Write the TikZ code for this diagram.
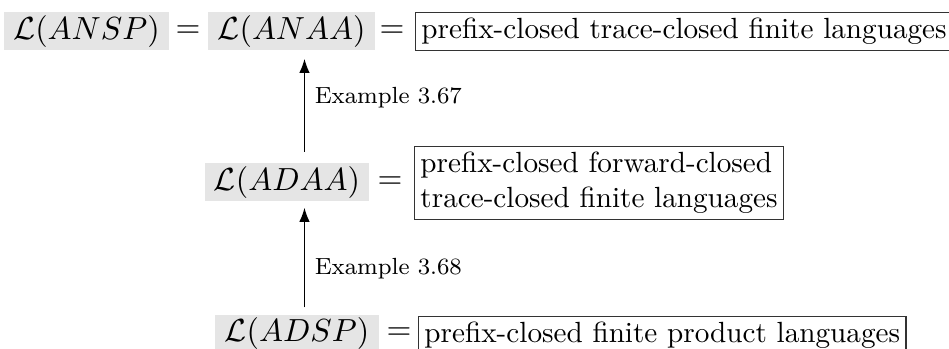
\documentclass[tikz,border=0pt]{standalone}
\usepackage{amsmath}
\usepackage{amssymb}
\usepackage{tikz}
\usetikzlibrary{arrows.meta}

\begin{document}
\begin{tikzpicture}[>=Latex,
  bigmath/.style={font=\fontsize{11.2}{13}\selectfont},
  lang/.style={bigmath, fill=gray!20, inner xsep=3.2pt, inner ysep=0.5pt, minimum height=13pt},
  setbox/.style={draw=black!80, inner sep=2pt, align=left},
  exref/.style={right, font=\footnotesize}]
  \useasboundingbox (0,0) rectangle (11.426,-4.202);
  % top row
  \node[lang] (ansp) at (1.041,-0.379) {$\mathcal{L}(ANSP)$};
  \node[bigmath] (eq1) at (2.264,-0.379) {$=$};
  \node[lang] (anaa) at (3.510,-0.379) {$\mathcal{L}(ANAA)$};
  \node[bigmath] (eq2) at (4.720,-0.379) {$=$};
  \node[setbox, anchor=west] (tcl) at (4.997,-0.379) {prefix-closed trace-closed finite languages};
  % middle row
  \node[lang] (adaa) at (3.455,-2.197) {$\mathcal{L}(ADAA)$};
  \node[bigmath] (eq3) at (4.696,-2.197) {$=$};
  \node[setbox, anchor=west] (fcl) at (4.985,-2.203) {prefix-closed forward-closed\\trace-closed finite languages};
  % bottom row
  \node[lang] (adsp) at (3.576,-4.021) {$\mathcal{L}(ADSP)$};
  \node[bigmath] (eq4) at (4.804,-4.021) {$=$};
  \node[setbox, anchor=west] (pcl) at (5.033,-4.040) {prefix-closed finite product languages};
  % inclusions
  \coordinate (ax) at (3.666,0);
  \draw[->, shorten <=3.8pt, shorten >=2.7pt] (adaa.north -| ax) -- (anaa.south -| ax)
    node[exref, pos=0.584] {Example 3.67};
  \draw[->, shorten <=2.4pt, shorten >=2pt] (adsp.north -| ax) -- (adaa.south -| ax)
    node[exref, pos=0.41] {Example 3.68};
\end{tikzpicture}
\end{document}
